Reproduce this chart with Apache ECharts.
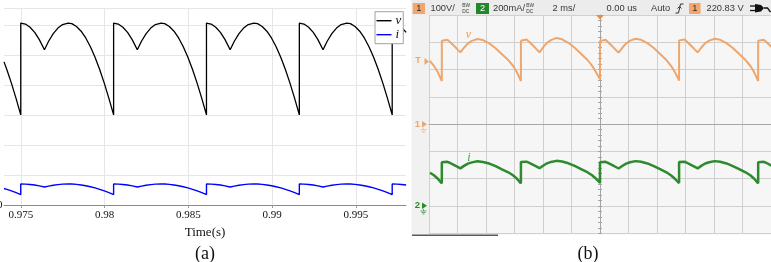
<!DOCTYPE html>
<html><head><meta charset="utf-8">
<script src="https://cdn.jsdelivr.net/npm/echarts@6/dist/echarts.min.js"></script>
<style>html,body{margin:0;padding:0;background:#fff}#c{width:771px;height:262px}</style>
</head><body><div id="c"></div>
<script>
// ---------- (a) simulation ----------
const leftTime = [
 0.974000,0.974168,0.974446,0.974723,0.975000,
 0.975000,0.975277,0.975554,0.975832,0.976109,0.976414,0.976663,0.976940,0.977218,0.977495,0.977827,0.978049,0.978326,0.978604,0.978881,0.979158,0.979435,0.979712,0.979990,0.980267,0.980544,
 0.980544,0.980821,0.981098,0.981376,0.981653,0.981958,0.982207,0.982484,0.982762,0.983039,0.983371,0.983593,0.983870,0.984148,0.984425,0.984702,0.984979,0.985256,0.985534,0.985811,0.986088,
 0.986088,0.986365,0.986642,0.986920,0.987197,0.987502,0.987751,0.988028,0.988306,0.988583,0.988915,0.989137,0.989414,0.989692,0.989969,0.990246,0.990523,0.990800,0.991078,0.991355,0.991632,
 0.991632,0.991909,0.992186,0.992464,0.992741,0.993046,0.993295,0.993572,0.993850,0.994127,0.994459,0.994681,0.994958,0.995236,0.995513,0.995790,0.996067,0.996344,0.996622,0.996899,0.997176,
 0.997176,0.997453,0.997730,0.998008
];
const leftV = [
 238.3,225.6,202.5,177.1,150.0,
 303.0,301.3,296.0,287.4,275.4,258.6,272.6,285.2,294.6,300.5,303.0,301.9,297.3,289.4,278.1,263.5,246.0,225.6,202.5,177.1,150.0,
 303.0,301.3,296.0,287.4,275.4,258.6,272.6,285.2,294.6,300.5,303.0,301.9,297.3,289.4,278.1,263.5,246.0,225.6,202.5,177.1,150.0,
 303.0,301.3,296.0,287.4,275.4,258.6,272.6,285.2,294.6,300.5,303.0,301.9,297.3,289.4,278.1,263.5,246.0,225.6,202.5,177.1,150.0,
 303.0,301.3,296.0,287.4,275.4,258.6,272.6,285.2,294.6,300.5,303.0,301.9,297.3,289.4,278.1,263.5,246.0,225.6,202.5,177.1,150.0,
 303.0,301.3,296.0,287.4
];
const leftI = [
 27.5,26.1,23.4,20.5,17.3,
 35.0,34.8,34.2,33.2,31.8,29.9,31.5,32.9,34.0,34.7,35.0,34.9,34.3,33.4,32.1,30.4,28.4,26.1,23.4,20.5,17.3,
 35.0,34.8,34.2,33.2,31.8,29.9,31.5,32.9,34.0,34.7,35.0,34.9,34.3,33.4,32.1,30.4,28.4,26.1,23.4,20.5,17.3,
 35.0,34.8,34.2,33.2,31.8,29.9,31.5,32.9,34.0,34.7,35.0,34.9,34.3,33.4,32.1,30.4,28.4,26.1,23.4,20.5,17.3,
 35.0,34.8,34.2,33.2,31.8,29.9,31.5,32.9,34.0,34.7,35.0,34.9,34.3,33.4,32.1,30.4,28.4,26.1,23.4,20.5,17.3,
 35.0,34.8,34.2,33.2
];
const seriesNames = ['v','i'];

// ---------- (b) oscilloscope (ms, V, A) ----------
const scopeTime = [
 -11.930,-11.655,-11.377,-11.100,
 -11.100,-10.989,-10.711,-10.545,-10.267,-9.990,-9.796,-9.546,-9.268,-8.991,-8.602,-8.214,-7.770,-7.326,-6.882,-6.438,-6.105,-5.827,-5.550,
 -5.550,-5.439,-5.161,-4.995,-4.717,-4.440,-4.246,-3.996,-3.718,-3.441,-3.052,-2.664,-2.220,-1.776,-1.332,-0.888,-0.555,-0.277,0.000,
 0.000,0.111,0.389,0.555,0.833,1.110,1.304,1.554,1.832,2.109,2.498,2.886,3.330,3.774,4.218,4.662,4.995,5.273,5.550,
 5.550,5.661,5.939,6.105,6.383,6.660,6.854,7.104,7.382,7.659,8.048,8.436,8.880,9.324,9.768,10.212,10.545,10.823,11.100,
 11.100,11.211,11.489,11.655,11.933,12.210
];
const scopeV = [
 232,214,190,158,
 306,310,309,302,288,273,263,280,296,305,312,308,296,278,256,235,214,190,158,
 306,311,310,303,289,274,263,281,298,308,316,311,298,280,258,236,214,190,165,
 305,309,309,301,287,272,262,279,296,306,313,309,297,279,257,235,213,189,160,
 307,311,310,302,288,273,263,280,297,306,313,309,297,279,257,235,214,190,158,
 306,310,309,302,288,273
];
const scopeI = [
 0.244,0.225,0.200,0.166,
 0.321,0.326,0.324,0.317,0.302,0.287,0.276,0.294,0.311,0.320,0.328,0.323,0.311,0.292,0.269,0.247,0.225,0.200,0.166,
 0.322,0.327,0.325,0.318,0.303,0.288,0.277,0.295,0.313,0.323,0.331,0.326,0.313,0.294,0.271,0.248,0.225,0.200,0.170,
 0.320,0.325,0.324,0.316,0.301,0.286,0.275,0.293,0.311,0.321,0.329,0.324,0.312,0.293,0.270,0.247,0.224,0.198,0.168,
 0.322,0.327,0.325,0.317,0.302,0.287,0.276,0.294,0.312,0.321,0.329,0.324,0.312,0.293,0.270,0.247,0.225,0.200,0.166,
 0.321,0.326,0.324,0.317,0.302,0.287
];
const headerTexts = ['1','100V/','2','200mA/','2 ms/','0.00 us','Auto','1','220.83 V'];

const SERIF = "'Liberation Serif','DejaVu Serif',serif";
const SANS = "'Liberation Sans',Arial,sans-serif";
const OR = '#eea66c', GR = '#2d8a2d';

function txt(x, y, s, o) {
  o = o || {};
  return {type:'text', x:x, y:y, z:o.z == null ? 20 : o.z, silent:true,
    style:{text:s, fill:o.fill||'#383838', font:o.font||('9.3px ' + SANS),
      align:o.align||'left', verticalAlign:'middle', textAlign:o.align||'left', textVerticalAlign:'middle'}};
}
function rect(x, y, w, h, fill, z) {
  return {type:'rect', z:z == null ? 15 : z, silent:true, shape:{x:x,y:y,width:w,height:h}, style:{fill:fill}};
}
function poly(pts, fill, z) {
  return {type:'polygon', z:z == null ? 20 : z, silent:true, shape:{points:pts}, style:{fill:fill}};
}
function pl(pts, stroke, w, z) {
  return {type:'polyline', z:z == null ? 20 : z, silent:true, shape:{points:pts}, style:{stroke:stroke, lineWidth:w||1, fill:null}};
}
function ground(x, y, c) {
  return [pl([[x,y],[x,y+2]],c,1), pl([[x-3,y+2],[x+3,y+2]],c,1), pl([[x-2,y+3.5],[x+2,y+3.5]],c,1), pl([[x-1,y+5],[x+1,y+5]],c,1)];
}

const graphics = [
  rect(411.5,0,359.5,15,'#ececec',-10),
  rect(411.5,15,359.5,219.5,'#f1f1f1',-10),
  rect(412,234.5,86,1.6,'#595959',-9),
  // header
  rect(412.7,3,12.3,11,'#f2a56d'), txt(418.9,8.8,headerTexts[0],{align:'center',fill:'#2a2a2a'}),
  txt(430.5,8.8,headerTexts[1]),
  txt(462.3,5.2,'BW',{font:'4.8px '+SANS}), txt(462.3,11.4,'DC',{font:'4.8px '+SANS}),
  rect(476,3,13,11,'#23862a'), txt(482.5,8.8,headerTexts[2],{align:'center',fill:'#fff'}),
  txt(493,8.8,headerTexts[3]),
  txt(526.3,5.2,'BW',{font:'4.8px '+SANS}), txt(526.3,11.4,'DC',{font:'4.8px '+SANS}),
  txt(552.5,8.8,headerTexts[4]),
  txt(606.5,8.8,headerTexts[5]),
  txt(651,8.8,headerTexts[6]),
  pl([[675.5,13],[678.5,13],[680.5,4],[683.5,4]],'#333',1),
  pl([[677.5,8.5],[679.5,6.5],[681.5,8.5]],'#333',1),
  rect(689,3,11.5,11,'#f2a56d'), txt(694.8,8.8,headerTexts[7],{align:'center',fill:'#2a2a2a'}),
  txt(706.5,8.8,headerTexts[8]),
  pl([[750,6],[755,6]],'#111',1.3), pl([[750,10.5],[755,10.5]],'#111',1.3),
  poly([[755,4],[761,5],[764,8],[761,11.5],[755,12.5]],'#111'),
  pl([[764,8],[767.5,8],[770.5,12]],'#111',1.3),
  // trigger position marker
  poly([[596,15],[604,15],[600,19.5]],'#ea8a3f'),
  // left strip markers
  txt(418,60.5,'T',{fill:OR,font:'bold 9px '+SANS,align:'center'}),
  poly([[424.5,58],[429,61.5],[424.5,65]],OR),
  txt(417.5,124,'1',{fill:OR,font:'bold 9.5px '+SANS,align:'center'}),
  poly([[422,121],[427,124.3],[422,127.6]],OR),
  ...ground(423.5,127.5,'#f5c7a0'),
  txt(417.5,205.5,'2',{fill:GR,font:'bold 9.5px '+SANS,align:'center'}),
  poly([[422,202.5],[427,205.8],[422,209.1]],GR),
  ...ground(423.5,209,'#6aa86a'),
  // trace names on scope
  txt(468.3,35,'v',{fill:'#f09a50',font:'italic 12px '+SERIF,align:'center'}),
  txt(468.8,157.5,'i',{fill:'#3aa83a',font:'italic 12px '+SERIF,align:'center'}),
  // captions
  txt(205,254.5,'(a)',{fill:'#111',font:'18px '+SERIF,align:'center'}),
  txt(588,254.5,'(b)',{fill:'#111',font:'18px '+SERIF,align:'center'})
];

const minor = {show:true, splitNumber:5, length:2, lineStyle:{color:'#a5a5a5', width:1}};
const chart = echarts.init(document.getElementById('c'), null, {renderer:'canvas'});
chart.setOption({
  animation:false,
  backgroundColor:'#fff',
  grid:[
    {left:4, right:365, top:8, bottom:57, containLabel:false, outerBoundsMode:'none'},
    {left:429, right:0, top:15, bottom:28.7, containLabel:false, outerBoundsMode:'none', show:true, backgroundColor:'#f6f6f6', borderWidth:0}
  ],
  legend:{
    data:seriesNames, orient:'vertical', left:375, top:11.7,
    icon:'rect', itemWidth:15, itemHeight:1.4, itemGap:0,
    padding:[2,2,2,1.5], borderColor:'#a0a0a0', borderWidth:1, backgroundColor:'#fff',
    textStyle:{fontFamily:SERIF, fontStyle:'italic', fontSize:13, lineHeight:14, color:'#111', padding:[0,0,0,-1]}
  },
  xAxis:[
    {gridIndex:0, type:'value', min:0.974, max:0.998, splitNumber:5, minInterval:0.005, maxInterval:0.005,
      axisLine:{show:true, lineStyle:{color:'#8a8a8a', width:1}},
      axisTick:{show:true, length:3, lineStyle:{color:'#9a9a9a'}},
      axisLabel:{margin:5, fontFamily:SERIF, fontSize:11, color:'#111', showMinLabel:false, showMaxLabel:false,
        formatter:function(v){ const s = +(+v).toFixed(4); return Math.abs(s*200 - Math.round(s*200)) < 1e-6 ? String(s) : ''; }},
      splitLine:{show:true, showMinLine:false, showMaxLine:false, lineStyle:{color:'#e6e6e6', width:1}},
      name:'Time(s)', nameLocation:'middle', nameGap:17,
      nameTextStyle:{fontFamily:SERIF, fontSize:13, color:'#111'}},
    {gridIndex:1, type:'value', min:-12, max:12, interval:2,
      axisLine:{show:true, onZero:true, onZeroAxisIndex:1, lineStyle:{color:'#a8a8a8'}},
      axisTick:{show:false}, minorTick:{show:false},
      axisLabel:{show:false}, splitLine:{show:true, lineStyle:{color:'#d0d0d0', width:1}}}
  ],
  yAxis:[
    {gridIndex:0, type:'value', min:0, max:328, interval:50,
      axisLine:{show:false}, axisTick:{show:false},
      axisLabel:{margin:1.5, fontFamily:SERIF, fontSize:11, color:'#111', formatter:function(v){return v===0?'0':'';}},
      splitLine:{show:true, lineStyle:{color:'#e6e6e6', width:1}}},
    {gridIndex:1, type:'value', position:'left', min:-400, max:400, interval:100,
      axisLine:{show:true, onZero:true, onZeroAxisIndex:1, lineStyle:{color:'#a5a5a5'}},
      axisTick:{show:true, length:2, lineStyle:{color:'#a5a5a5'}}, minorTick:minor,
      axisLabel:{show:false}, splitLine:{show:true, lineStyle:{color:'#d0d0d0', width:1}}},
    {gridIndex:1, type:'value', position:'right', min:-0.2, max:1.4, show:false},
    {gridIndex:1, type:'value', position:'right', min:-400, max:400, interval:100,
      axisLine:{show:false, onZero:true, onZeroAxisIndex:1},
      axisTick:{show:true, length:2, lineStyle:{color:'#a5a5a5'}}, minorTick:minor,
      axisLabel:{show:false}, splitLine:{show:false}}
  ],
  series:[
    {name:seriesNames[0], type:'line', xAxisIndex:0, yAxisIndex:0, symbol:'none', showSymbol:false,
      data:leftTime.map(function(t,k){return [t,leftV[k]];}),
      lineStyle:{color:'#000', width:1.3}, itemStyle:{color:'#000'}, z:3},
    {name:seriesNames[1], type:'line', xAxisIndex:0, yAxisIndex:0, symbol:'none', showSymbol:false,
      data:leftTime.map(function(t,k){return [t,leftI[k]];}),
      lineStyle:{color:'#0000ff', width:1.4}, itemStyle:{color:'#0000ff'}, z:3},
    {name:'scope v', type:'line', xAxisIndex:1, yAxisIndex:1, symbol:'none', showSymbol:false,
      data:scopeTime.map(function(t,k){return [t,scopeV[k]];}),
      lineStyle:{color:OR, width:2}, itemStyle:{color:OR}, z:3},
    {name:'scope i', type:'line', xAxisIndex:1, yAxisIndex:2, symbol:'none', showSymbol:false,
      data:scopeTime.map(function(t,k){return [t,scopeI[k]];}),
      lineStyle:{color:GR, width:2.5}, itemStyle:{color:GR}, z:3}
  ],
  graphic:{elements:graphics}
});
</script>
</body></html>
